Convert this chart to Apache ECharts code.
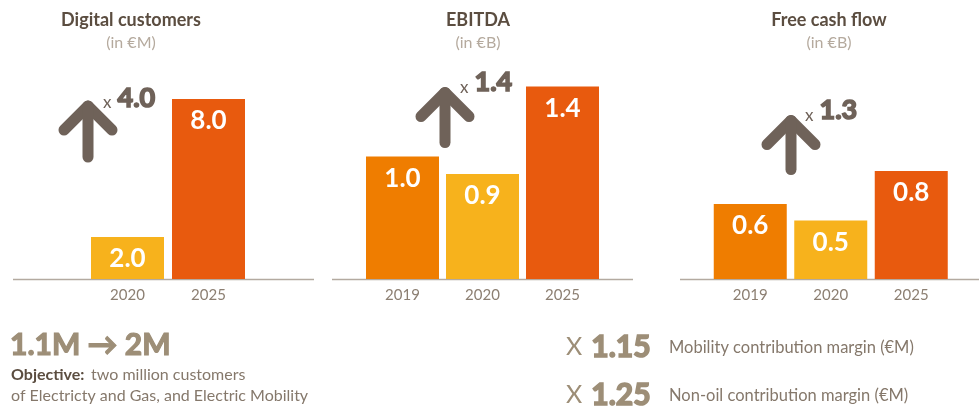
<!DOCTYPE html>
<html>
<head>
<meta charset="utf-8">
<script src="https://cdn.jsdelivr.net/npm/echarts@6/dist/echarts.min.js"></script>
<style>
  html, body { margin: 0; padding: 0; background: #fff; }
  #chart { width: 979px; height: 409px; }
</style>
</head>
<body>
<div id="chart"></div>
<script>
// panel data
const digitalYears = ['2020', '2025'];
const digitalValues = [2.0, 8.0];
const ebitdaYears = ['2019', '2020', '2025'];
const ebitdaValues = [1.0, 0.9, 1.4];
const fcfYears = ['2019', '2020', '2025'];
const fcfValues = [0.6, 0.5, 0.8];
const titles = ['Digital customers', 'EBITDA', 'Free cash flow'];
const subtitles = ['(in €M)', '(in €B)', '(in €B)'];
const multipliers = ['4.0', '1.4', '1.3'];

const yearColors = { '2019': '#ef7d00', '2020': '#f7b21c', '2025': '#e85a0e' };
const FONT = 'Lato, "Open Sans", sans-serif';
const BROWN = '#6f6259';
const TAUPE = '#9d8e77';
const GREYTXT = '#85786b';

const myChart = echarts.init(document.getElementById('chart'));

const panels = [
  { years: digitalYears, values: digitalValues, grid: { left: 87, width: 162 }, min: 0.17, max: 10.56, title: 131 },
  { years: ebitdaYears, values: ebitdaValues, grid: { left: 362.5, width: 240 }, min: 0.30, max: 1.666, title: 478 },
  { years: fcfYears, values: fcfValues, grid: { left: 710, width: 241.5 }, min: 0.145, max: 1.593, title: 829 }
];

const option = {
  backgroundColor: '#fff',
  animation: false,
  title: panels.map((p, i) => ({
    text: titles[i],
    subtext: subtitles[i],
    left: p.title,
    top: 11,
    padding: 0,
    itemGap: 6,
    textAlign: 'center',
    textStyle: { fontFamily: FONT, fontSize: 18, fontWeight: 'bold', color: '#5b4d40' },
    subtextStyle: { fontFamily: FONT, fontSize: 16, color: '#b5aa9e' }
  })),
  grid: panels.map((p) => ({ left: p.grid.left, width: p.grid.width, top: 40, height: 239 })),
  xAxis: panels.map((p, i) => ({
    type: 'category',
    gridIndex: i,
    data: p.years,
    axisLine: { show: false },
    axisTick: { show: false },
    axisLabel: { color: '#8c7f72', fontFamily: FONT, fontSize: 15, margin: 9 }
  })),
  yAxis: panels.map((p, i) => ({
    type: 'value',
    gridIndex: i,
    min: p.min,
    max: p.max,
    startValue: p.min,
    show: false,
    splitLine: { show: false }
  })),
  series: panels.map((p, i) => ({
    type: 'bar',
    xAxisIndex: i,
    yAxisIndex: i,
    barWidth: 73,
    clip: true,
    data: p.values.map((v, j) => ({ value: v, itemStyle: { color: yearColors[p.years[j]] } })),
    label: {
      show: true,
      position: 'insideTop',
      distance: 9,
      color: '#fff',
      fontFamily: FONT,
      fontSize: 26,
      fontWeight: 'bold',
      formatter: (d) => d.value.toFixed(1)
    }
  })),
  graphic: []
};

// baselines under each panel
const baselines = [[13, 314], [332, 633], [680, 979]];
baselines.forEach(([x1, x2]) => {
  option.graphic.push({
    type: 'line',
    shape: { x1: x1, y1: 279.5, x2: x2, y2: 279.5 },
    style: { stroke: '#b3aaa0', lineWidth: 1.5 }
  });
});

// growth arrows + multiplier labels
const arrows = [
  { x: 88, y: 106, len: 51, tx: 103, ty: 98 },
  { x: 445, y: 92.5, len: 50, tx: 460, ty: 82.5 },
  { x: 791, y: 120.5, len: 49, tx: 805, ty: 110.5 }
];
arrows.forEach((a, i) => {
  option.graphic.push({
    type: 'group',
    x: a.x,
    y: a.y,
    children: [
      { type: 'polyline', shape: { points: [[-24, 24], [0, 0], [24, 24]] },
        style: { stroke: BROWN, lineWidth: 11, lineCap: 'round', lineJoin: 'round', fill: null } },
      { type: 'line', shape: { x1: 0, y1: 0, x2: 0, y2: a.len },
        style: { stroke: BROWN, lineWidth: 11, lineCap: 'round' } }
    ]
  });
  option.graphic.push({
    type: 'text',
    x: a.tx,
    y: a.ty,
    style: {
      text: '{x|x}{n|' + multipliers[i] + '}',
      verticalAlign: 'middle',
      rich: {
        x: { fontFamily: FONT, fontSize: 17, fill: BROWN, verticalAlign: 'bottom', padding: [0, 6, 0, 0] },
        n: { fontFamily: FONT, fontSize: 27, fontWeight: 'bold', fill: BROWN, stroke: BROWN, lineWidth: 1.6 }
      }
    }
  });
});

// bottom left text
option.graphic.push({
  type: 'text', x: 10, y: 345,
  style: { text: '1.1M → 2M', fontFamily: FONT, fontSize: 30, fontWeight: 'bold', fill: TAUPE, stroke: TAUPE, lineWidth: 1.2, verticalAlign: 'middle' }
});
option.graphic.push({
  type: 'text', x: 11, y: 375,
  style: {
    text: '{b|Objective:}  {t|two million customers}',
    verticalAlign: 'middle',
    rich: {
      b: { fontFamily: FONT, fontSize: 16, fontWeight: 'bold', fill: '#5b4d40' },
      t: { fontFamily: FONT, fontSize: 16, fill: GREYTXT }
    }
  }
});
option.graphic.push({
  type: 'text', x: 11, y: 396,
  style: { text: 'of Electricty and Gas, and Electric Mobility', fontFamily: FONT, fontSize: 16, fill: GREYTXT, verticalAlign: 'middle' }
});

// bottom right text
const rightRows = [
  { mult: '1.15', text: 'Mobility contribution margin (€M)', y: 347 },
  { mult: '1.25', text: 'Non-oil contribution margin (€M)', y: 395 }
];
rightRows.forEach((r) => {
  option.graphic.push({
    type: 'text', x: 566, y: r.y,
    style: {
      text: '{x|X}{n|' + r.mult + '}',
      verticalAlign: 'middle',
      rich: {
        x: { fontFamily: FONT, fontSize: 25, fill: TAUPE, padding: [0, 9, 0, 0] },
        n: { fontFamily: FONT, fontSize: 30, fontWeight: 'bold', fill: TAUPE, stroke: TAUPE, lineWidth: 1.6 }
      }
    }
  });
  option.graphic.push({
    type: 'text', x: 669, y: r.y + 1,
    style: { text: r.text, fontFamily: FONT, fontSize: 16.5, fill: GREYTXT, verticalAlign: 'middle' }
  });
});

myChart.setOption(option);
</script>
</body>
</html>
